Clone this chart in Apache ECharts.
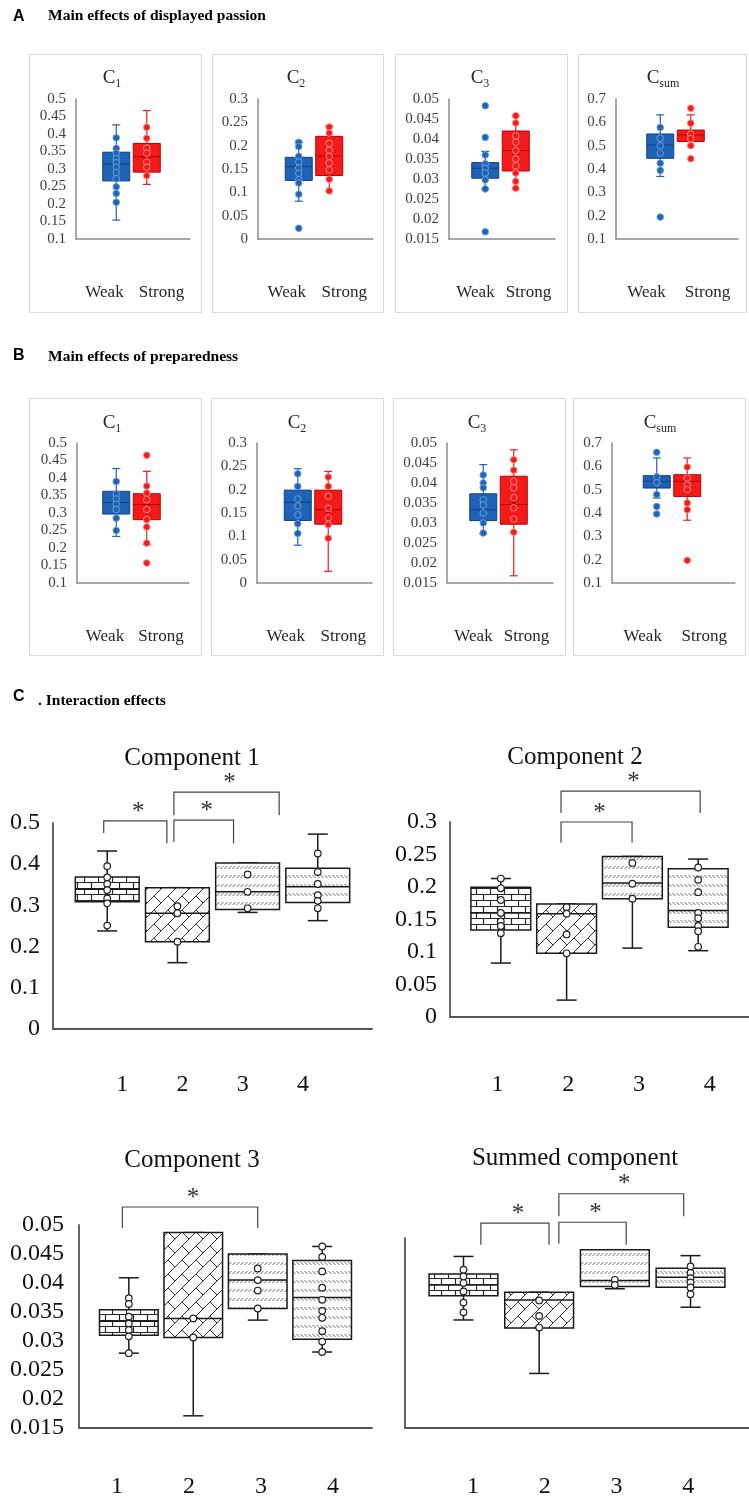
<!DOCTYPE html>
<html><head><meta charset="utf-8">
<script src="https://cdn.jsdelivr.net/npm/echarts@6.0.0/dist/echarts.min.js"></script>
<style>html,body{margin:0;padding:0;background:#fff}#c{width:749px;height:1505px}</style>
</head><body><div id="c"></div>
<script>
// ---------- text ----------
const GROUPS = ['Weak', 'Strong'];
const GROUPS_C = ['1', '2', '3', '4'];
const SUBS = ['1', '2', '3', 'sum'];
const C_TITLES = ['Component 1', 'Component 2', 'Component 3', 'Summed component'];
const LETTERS = ['A', 'B', 'C'];
const HEADS = ['Main effects of displayed passion', 'Main effects of preparedness', '. Interaction effects'];

// ---------- A: displayed passion  [min, q1, median, q3, max] per group (Weak, Strong) ----------
const A_C1_BOX = [[0.154, 0.266, 0.314, 0.348, 0.426], [0.256, 0.291, 0.335, 0.373, 0.467]];
const A_C1_MEAN = [0.307, 0.338];
const A_C1_PTS = [[0.389, 0.359, 0.345, 0.330, 0.318, 0.305, 0.290, 0.272, 0.249, 0.230, 0.205],
                  [0.419, 0.388, 0.360, 0.345, 0.320, 0.305, 0.281]];
const A_C2_BOX = [[0.081, 0.1255, 0.155, 0.175, 0.209], [0.102, 0.136, 0.178, 0.220, 0.242]];
const A_C2_MEAN = [0.152, 0.178];
const A_C2_PTS = [[0.207, 0.198, 0.177, 0.165, 0.152, 0.141, 0.127, 0.120, 0.096, 0.023],
                  [0.240, 0.227, 0.205, 0.190, 0.177, 0.163, 0.148, 0.128, 0.103]];
const A_C3_BOX = [[0.0275, 0.0302, 0.0327, 0.0341, 0.0369], [0.0275, 0.0320, 0.0371, 0.0420, 0.0458]];
const A_C3_MEAN = [0.0325, 0.0370];
const A_C3_PTS = [[0.0483, 0.0404, 0.0360, 0.0338, 0.0327, 0.0315, 0.0298, 0.0275, 0.0168],
                  [0.0458, 0.0440, 0.0408, 0.0392, 0.0371, 0.0350, 0.0333, 0.0315, 0.0294, 0.0277]];
const A_CS_BOX = [[0.368, 0.446, 0.503, 0.550, 0.632], [0.500, 0.518, 0.546, 0.567, 0.632]];
const A_CS_MEAN = [0.490, 0.545];
const A_CS_PTS = [[0.578, 0.532, 0.500, 0.468, 0.425, 0.394, 0.194],
                  [0.660, 0.596, 0.550, 0.530, 0.500, 0.444]];

// ---------- B: preparedness ----------
const B_C1_BOX = [[0.233, 0.297, 0.330, 0.362, 0.427], [0.210, 0.281, 0.324, 0.355, 0.419]];
const B_C1_MEAN = [0.330, 0.315];
const B_C1_PTS = [[0.390, 0.355, 0.340, 0.325, 0.310, 0.285, 0.250],
                  [0.465, 0.377, 0.357, 0.338, 0.310, 0.281, 0.260, 0.214, 0.157]];
const B_C2_BOX = [[0.081, 0.134, 0.173, 0.199, 0.245], [0.025, 0.126, 0.157, 0.199, 0.239]];
const B_C2_MEAN = [0.170, 0.153];
const B_C2_PTS = [[0.234, 0.207, 0.180, 0.165, 0.146, 0.127, 0.106],
                  [0.227, 0.207, 0.186, 0.160, 0.140, 0.125, 0.096]];
const B_C3_BOX = [[0.0273, 0.0306, 0.0333, 0.0373, 0.0446], [0.0168, 0.0297, 0.0346, 0.0417, 0.0483]];
const B_C3_MEAN = [0.0340, 0.0350];
const B_C3_PTS = [[0.0420, 0.0400, 0.0388, 0.0358, 0.0345, 0.0325, 0.0300, 0.0275],
                  [0.0458, 0.0432, 0.0404, 0.0388, 0.0363, 0.0338, 0.0310, 0.0277]];
const B_CS_BOX = [[0.464, 0.507, 0.536, 0.560, 0.636], [0.369, 0.471, 0.536, 0.564, 0.636]];
const B_CS_MEAN = [0.530, 0.500];
const B_CS_PTS = [[0.660, 0.555, 0.530, 0.479, 0.428, 0.396],
                  [0.597, 0.550, 0.520, 0.500, 0.443, 0.414, 0.197]];

// ---------- C: interaction groups 1-4 ----------
const C1_BOX = [[0.238, 0.309, 0.339, 0.369, 0.432], [0.161, 0.212, 0.281, 0.343, 0.343],
                [0.283, 0.290, 0.333, 0.403, 0.403], [0.263, 0.307, 0.345, 0.390, 0.473]];
const C1_PTS = [[0.395, 0.368, 0.352, 0.337, 0.317, 0.305, 0.251], [0.298, 0.281, 0.212],
                [0.375, 0.333, 0.293], [0.426, 0.381, 0.352, 0.325, 0.311, 0.293]];
const C2_BOX = [[0.083, 0.134, 0.160, 0.1995, 0.213], [0.026, 0.098, 0.159, 0.174, 0.174],
                [0.106, 0.182, 0.206, 0.247, 0.247], [0.102, 0.138, 0.164, 0.228, 0.243]];
const C2_PTS = [[0.213, 0.198, 0.180, 0.160, 0.147, 0.140, 0.129], [0.169, 0.159, 0.127, 0.098],
                [0.237, 0.205, 0.182], [0.230, 0.211, 0.192, 0.160, 0.152, 0.140, 0.132, 0.108]];
const C3_BOX = [[0.0279, 0.0310, 0.0334, 0.0354, 0.0409], [0.0171, 0.0306, 0.0339, 0.0487, 0.0487],
                [0.0336, 0.0356, 0.0405, 0.0450, 0.0450], [0.0281, 0.0303, 0.0375, 0.0439, 0.0463]];
const C3_PTS = [[0.0374, 0.0364, 0.0342, 0.0330, 0.0319, 0.0308, 0.0279], [0.0339, 0.0306],
                [0.0425, 0.0405, 0.0387, 0.0356],
                [0.0463, 0.0445, 0.0420, 0.0392, 0.0371, 0.0352, 0.0340, 0.0317, 0.0299, 0.0281]];
const C4_BOX = [[0.398, 0.487, 0.527, 0.567, 0.632], [0.201, 0.3685, 0.472, 0.500, 0.500],
                [0.513, 0.521, 0.5435, 0.657, 0.657], [0.445, 0.519, 0.555, 0.589, 0.635]];
const C4_PTS = [[0.583, 0.558, 0.534, 0.503, 0.462, 0.426], [0.470, 0.413, 0.370],
                [0.546, 0.527], [0.595, 0.571, 0.552, 0.536, 0.518, 0.493]];
// significance brackets: [from group, to group, top level, left leg end, right leg end]
const C1_SIG = [[-0.05, 0.85, 0.505, 0.476, 0.451], [0.95, 1.80, 0.507, 0.454, 0.451], [0.95, 2.45, 0.575, 0.519, 0.519]];
const C2_SIG = [[0.915, 1.995, 0.300, 0.268, 0.268], [0.915, 3.03, 0.3476, 0.314, 0.314]];
const C3_SIG = [[-0.10, 2.00, 0.0531, 0.0495, 0.0495]];
const C4_SIG = [[0.23, 1.13, 0.755, 0.675, 0.675], [1.26, 2.15, 0.758, 0.679, 0.675], [1.26, 2.91, 0.863, 0.780, 0.780]];

// ---------- styling / layout ----------
const SERIF = "'Liberation Serif', 'Times New Roman', serif";
const SANS = "'Liberation Sans', Arial, sans-serif";
const FILL = ['#1f63b6', '#f51a1a'];
const EDGE = ['#0f3f80', '#b80000'];
const PT_RING = ['#6d9fdc', '#ff8a8a'];

const SMALL = [
  {g: [76, 99, 114, 140], y: [0.1, 0.5, 0.05], box: A_C1_BOX, mean: A_C1_MEAN, pts: A_C1_PTS, t: [112, 78], s: 0},
  {g: [258, 99, 115, 140], y: [0, 0.3, 0.05], box: A_C2_BOX, mean: A_C2_MEAN, pts: A_C2_PTS, t: [296, 78], s: 1},
  {g: [449, 99, 106, 140], y: [0.015, 0.05, 0.005], box: A_C3_BOX, mean: A_C3_MEAN, pts: A_C3_PTS, t: [480, 78], s: 2},
  {g: [616, 99, 122, 140], y: [0.1, 0.7, 0.1], box: A_CS_BOX, mean: A_CS_MEAN, pts: A_CS_PTS, t: [663, 78], s: 3},
  {g: [77, 443, 112, 140], y: [0.1, 0.5, 0.05], box: B_C1_BOX, mean: B_C1_MEAN, pts: B_C1_PTS, t: [112, 423], s: 0},
  {g: [257, 443, 115, 140], y: [0, 0.3, 0.05], box: B_C2_BOX, mean: B_C2_MEAN, pts: B_C2_PTS, t: [297, 423], s: 1},
  {g: [447, 443, 106, 140], y: [0.015, 0.05, 0.005], box: B_C3_BOX, mean: B_C3_MEAN, pts: B_C3_PTS, t: [477, 423], s: 2},
  {g: [612, 443, 123, 140], y: [0.1, 0.7, 0.1], box: B_CS_BOX, mean: B_CS_MEAN, pts: B_CS_PTS, t: [660, 423], s: 3}
];
const BIG = [
  {g: [53, 823, 319, 206], y: [0, 0.5, 0.1], box: C1_BOX, pts: C1_PTS, sig: C1_SIG, t: [192, 758], lab: [92, 241, 1085], lm: 13, showLab: true},
  {g: [450, 822, 299, 195], y: [0, 0.3, 0.05], box: C2_BOX, pts: C2_PTS, sig: C2_SIG, t: [575, 757], lab: [462, 283, 1085], lm: 13, showLab: true},
  {g: [79, 1225, 293, 203], y: [0.015, 0.05, 0.005], box: C3_BOX, pts: C3_PTS, sig: C3_SIG, t: [192, 1160], lab: [81, 288, 1487], lm: 15, showLab: true},
  {g: [405, 1238, 344, 190], y: [0, 0.7, 0.1], box: C4_BOX, pts: C4_PTS, sig: C4_SIG, t: [575, 1158], lab: [437, 287, 1487], lm: 13, showLab: false}
];

// ---------- fill patterns ----------
function mk(w, h) { const c = document.createElement('canvas'); c.width = w; c.height = h; return c; }
function brickPat() {
  const c = mk(14, 12), g = c.getContext('2d');
  g.fillStyle = '#fff'; g.fillRect(0, 0, 14, 12);
  g.strokeStyle = '#262626'; g.lineWidth = 1.2; g.beginPath();
  g.moveTo(0, 0.5); g.lineTo(14, 0.5); g.moveTo(0, 6.5); g.lineTo(14, 6.5);
  g.moveTo(0.5, 0); g.lineTo(0.5, 6.5); g.moveTo(7.5, 6.5); g.lineTo(7.5, 12);
  g.stroke(); return c;
}
function diagBrickPat() {
  const T = 28, c = mk(T, T), g = c.getContext('2d');
  g.fillStyle = '#fff'; g.fillRect(0, 0, T, T);
  g.strokeStyle = '#333'; g.lineWidth = 1; g.beginPath();
  for (let s = -56; s <= 112; s += 14) { g.moveTo(s + 60, -60); g.lineTo(s - 60, 60); }
  for (let r = -6; r <= 6; r++) {
    const s0 = 14 * r, off = (((r % 2) + 2) % 2) ? 14 : 0;
    for (let j = -6; j <= 6; j++) {
      const k = off + 28 * j;
      g.moveTo((s0 + k) / 2, (s0 - k) / 2); g.lineTo((s0 + 14 + k) / 2, (s0 + 14 - k) / 2);
    }
  }
  g.stroke(); return c;
}
function hatchPat(dir) {
  const c = mk(4, 9), g = c.getContext('2d');
  g.fillStyle = '#fff'; g.fillRect(0, 0, 4, 9);
  g.strokeStyle = '#666'; g.lineWidth = 1; g.beginPath();
  if (dir > 0) { g.moveTo(0.5, 5); g.lineTo(3.5, 2); } else { g.moveTo(0.5, 2); g.lineTo(3.5, 5); }
  g.stroke(); return c;
}
const PATS = [brickPat(), diagBrickPat(), hatchPat(1), hatchPat(-1)].map(im => ({type: 'pattern', image: im, repeat: 'repeat'}));

// ---------- render helpers ----------
function ln(x1, y1, x2, y2, c, lw) { return {type: 'line', shape: {x1, y1, x2, y2}, style: {stroke: c, lineWidth: lw}}; }
function pairX(api, i) {
  const a = api.coord([0, 0])[0], b = api.coord([1, 0])[0];
  return (a + b) / 2 - 1.5 + (i - 0.5) * 30.5;
}
function quadGeom(api) {
  const a = api.coord([0, 0])[0], b = api.coord([3, 0])[0], band = api.size([1, 0])[0];
  return {mid: (a + b) / 2, sp: band * 0.88, w: band * 0.8};
}
function smallBox(params, api) {
  const i = api.value(0), cx = pairX(api, i), w = 27, col = FILL[i], dk = EDGE[i];
  const y = k => api.coord([i, api.value(k)])[1];
  const yMin = y(1), yQ1 = y(2), yMed = y(3), yQ3 = y(4), yMax = y(5), yMean = y(6);
  return {type: 'group', children: [
    ln(cx, yMax, cx, yQ3, col, 1.2), ln(cx, yQ1, cx, yMin, col, 1.2),
    ln(cx - 4, yMax, cx + 4, yMax, col, 1.2), ln(cx - 4, yMin, cx + 4, yMin, col, 1.2),
    {type: 'rect', shape: {x: cx - w / 2, y: yQ3, width: w, height: yQ1 - yQ3}, style: {fill: col, stroke: dk, lineWidth: 1}},
    ln(cx - w / 2, yMed, cx + w / 2, yMed, dk, 1),
    ln(cx - 3.5, yMean - 3.5, cx + 3.5, yMean + 3.5, dk, 1.2), ln(cx - 3.5, yMean + 3.5, cx + 3.5, yMean - 3.5, dk, 1.2)
  ]};
}
function smallPt(params, api) {
  const i = api.value(0), cx = pairX(api, i), cy = api.coord([i, api.value(1)])[1];
  return {type: 'circle', shape: {cx, cy, r: 3.3}, style: {fill: FILL[i], stroke: PT_RING[i], lineWidth: 1}};
}
function bigBox(params, api) {
  const i = api.value(0), G = quadGeom(api), cx = G.mid + (i - 1.5) * G.sp, w = G.w;
  const y = k => api.coord([i, api.value(k)])[1];
  const yMin = y(1), yQ1 = y(2), yMed = y(3), yQ3 = y(4), yMax = y(5), k = '#1a1a1a';
  return {type: 'group', children: [
    ln(cx, yMax, cx, yQ3, k, 1.5), ln(cx, yQ1, cx, yMin, k, 1.5),
    ln(cx - 10, yMax, cx + 10, yMax, k, 1.5), ln(cx - 10, yMin, cx + 10, yMin, k, 1.5),
    {type: 'rect', shape: {x: cx - w / 2, y: yQ3, width: w, height: yQ1 - yQ3}, style: {fill: PATS[i], stroke: k, lineWidth: 1.5}},
    ln(cx - w / 2, yMed, cx + w / 2, yMed, k, 1.5)
  ]};
}
function bigPt(params, api) {
  const i = api.value(0), G = quadGeom(api), cx = G.mid + (i - 1.5) * G.sp, cy = api.coord([i, api.value(1)])[1];
  return {type: 'circle', shape: {cx, cy, r: 3.3}, style: {fill: '#fff', stroke: '#222', lineWidth: 1.2}};
}
function bracket(params, api) {
  const G = quadGeom(api);
  const x1 = G.mid + (api.value(0) - 1.5) * G.sp, x2 = G.mid + (api.value(1) - 1.5) * G.sp;
  const yv = v => api.coord([0, v])[1];
  const yT = yv(api.value(2)), yL = yv(api.value(3)), yR = yv(api.value(4));
  return {type: 'group', children: [
    {type: 'polyline', shape: {points: [[x1, yL], [x1, yT], [x2, yT], [x2, yR]]}, style: {stroke: '#444', lineWidth: 1.2, fill: 'none'}},
    {type: 'text', x: (x1 + x2) / 2 + 3, y: yT - 9, style: {text: '*', font: '25px ' + SERIF, fill: '#333',
      align: 'center', verticalAlign: 'middle', textAlign: 'center', textVerticalAlign: 'middle'}}
  ]};
}

// ---------- build option ----------
const grid = [], xAxis = [], yAxis = [], series = [], title = [], graphic = [];
const axLineSmall = {show: true, lineStyle: {color: '#8c8c8c', width: 1.5}};
const axLineBig = {show: true, lineStyle: {color: '#555', width: 1.8}};

SMALL.forEach((p, k) => {
  grid.push({left: p.g[0], top: p.g[1], width: p.g[2], height: p.g[3], outerBoundsMode: 'none', containLabel: false});
  xAxis.push({gridIndex: k, type: 'category', data: GROUPS, axisLine: axLineSmall, axisTick: {show: false}, splitLine: {show: false},
    axisLabel: {margin: 54, verticalAlign: 'middle', fontFamily: SERIF, fontSize: 17, color: '#262626', interval: 0}});
  yAxis.push({gridIndex: k, type: 'value', min: p.y[0], max: p.y[1], interval: p.y[2], axisLine: axLineSmall,
    axisTick: {show: false}, splitLine: {show: false},
    axisLabel: {margin: 10, fontFamily: SERIF, fontSize: 15, color: '#404040'}});
  series.push({type: 'custom', xAxisIndex: k, yAxisIndex: k, renderItem: smallBox, z: 2, clip: false,
    encode: {x: 0, y: [1, 2, 3, 4, 5, 6]}, data: p.box.map((b, i) => [i, ...b, p.mean[i]])});
  series.push({type: 'custom', xAxisIndex: k, yAxisIndex: k, renderItem: smallPt, z: 3, clip: false,
    encode: {x: 0, y: 1}, data: p.pts.flatMap((arr, i) => arr.map(v => [i, v]))});
  title.push({text: '{m|C}{s|' + SUBS[p.s] + '}', left: p.t[0], top: p.t[1], textAlign: 'center', textVerticalAlign: 'middle', padding: 0,
    textStyle: {fontWeight: 'normal', rich: {
      m: {fontFamily: SERIF, fontSize: 19, fontWeight: 'normal', color: '#262626', lineHeight: 24, verticalAlign: 'middle'},
      s: {fontFamily: SERIF, fontSize: 12, fontWeight: 'normal', color: '#262626', lineHeight: 12, verticalAlign: 'bottom'}}}});
});

BIG.forEach((p, j) => {
  const k = SMALL.length + j;
  grid.push({left: p.g[0], top: p.g[1], width: p.g[2], height: p.g[3], outerBoundsMode: 'none', containLabel: false});
  xAxis.push({gridIndex: k, type: 'category', data: GROUPS_C, axisLine: axLineBig, axisTick: {show: false},
    splitLine: {show: false}, axisLabel: {show: false}});
  yAxis.push({gridIndex: k, type: 'value', min: p.y[0], max: p.y[1], interval: p.y[2], axisLine: axLineBig,
    axisTick: {show: false}, splitLine: {show: false},
    axisLabel: {show: p.showLab, margin: p.lm, fontFamily: SERIF, fontSize: 24, color: '#111'}});
  series.push({type: 'custom', xAxisIndex: k, yAxisIndex: k, renderItem: bigBox, z: 2, clip: false,
    encode: {x: 0, y: [1, 2, 3, 4, 5]}, data: p.box.map((b, i) => [i, ...b])});
  series.push({type: 'custom', xAxisIndex: k, yAxisIndex: k, renderItem: bigPt, z: 3, clip: false,
    encode: {x: 0, y: 1}, data: p.pts.flatMap((arr, i) => arr.map(v => [i, v]))});
  series.push({type: 'custom', xAxisIndex: k, yAxisIndex: k, renderItem: bracket, z: 3, clip: false,
    encode: {x: 0, y: [2, 3, 4]}, data: p.sig});
  title.push({text: C_TITLES[j], left: p.t[0], top: p.t[1], textAlign: 'center', textVerticalAlign: 'middle', padding: 0,
    textStyle: {fontFamily: SERIF, fontSize: 25, fontWeight: 'normal', color: '#111'}});
});

// separate label rows for the 1-4 group labels
BIG.forEach((p, j) => {
  const k = SMALL.length + BIG.length + j;
  grid.push({left: p.lab[0], top: p.lab[2] - 1, width: p.lab[1], height: 1, outerBoundsMode: 'none', containLabel: false});
  xAxis.push({gridIndex: k, type: 'category', data: GROUPS_C, axisLine: {show: false}, axisTick: {show: false},
    splitLine: {show: false}, axisLabel: {margin: 0, verticalAlign: 'middle', fontFamily: SERIF, fontSize: 24, color: '#111', interval: 0}});
  yAxis.push({gridIndex: k, type: 'value', show: false, min: 0, max: 1, splitLine: {show: false}});
});

// section headings and panel frames
const HEAD_Y = [[17, 16], [356, 357], [697, 701]];
const HEAD_X = [48, 48, 38];
LETTERS.forEach((L, i) => {
  graphic.push({type: 'text', x: 13, y: HEAD_Y[i][0], style: {text: L, font: 'bold 16px ' + SANS, fill: '#000',
    verticalAlign: 'middle', textVerticalAlign: 'middle'}});
  graphic.push({type: 'text', x: HEAD_X[i], y: HEAD_Y[i][1], style: {text: HEADS[i], font: 'bold 15.5px ' + SERIF, fill: '#000',
    verticalAlign: 'middle', textVerticalAlign: 'middle'}});
});
const FRAMES = [[29, 54, 172, 258], [212, 54, 171, 258], [395, 54, 172, 258], [578, 54, 168, 258],
                [29, 398, 172, 257], [211, 398, 172, 257], [393, 398, 172, 257], [573, 398, 172, 257]];
FRAMES.forEach(f => graphic.push({type: 'rect', z: -1, shape: {x: f[0] + 0.5, y: f[1] + 0.5, width: f[2], height: f[3]},
  style: {fill: 'none', stroke: '#d9d9d9', lineWidth: 1}}));

const chart = echarts.init(document.getElementById('c'), null, {renderer: 'canvas'});
chart.setOption({
  animation: false,
  backgroundColor: '#fff',
  textStyle: {fontFamily: SERIF},
  title, grid, xAxis, yAxis, series, graphic
});
</script></body></html>
